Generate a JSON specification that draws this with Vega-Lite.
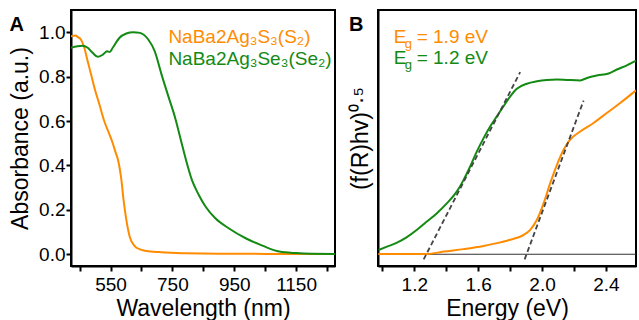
{
  "$schema": "https://vega.github.io/schema/vega-lite/v6.json",
  "padding": {"left": 8, "top": 9, "right": 0, "bottom": 0},
  "background": "white",
  "spacing": 12,
  "config": {
    "font": "Liberation Sans",
    "view": {"stroke": "black", "strokeWidth": 2},
    "axis": {
      "labelFont": "Liberation Sans", "titleFont": "Liberation Sans",
      "labelFontSize": 19, "titleFontSize": 23, "titleFontWeight": "normal",
      "labelColor": "black", "titleColor": "black",
      "domainColor": "black", "domainWidth": 2,
      "tickColor": "black", "tickWidth": 2, "tickSize": 5, "grid": false
    }
  },
  "datasets": {
    "absA": [
      {"sample": "S2", "wavelength": 421.5, "absorbance": 0.982},
      {"sample": "S2", "wavelength": 437, "absorbance": 0.985},
      {"sample": "S2", "wavelength": 443, "absorbance": 0.979},
      {"sample": "S2", "wavelength": 454, "absorbance": 0.967},
      {"sample": "S2", "wavelength": 465, "absorbance": 0.93},
      {"sample": "S2", "wavelength": 476, "absorbance": 0.869},
      {"sample": "S2", "wavelength": 487, "absorbance": 0.809},
      {"sample": "S2", "wavelength": 498, "absorbance": 0.749},
      {"sample": "S2", "wavelength": 514, "absorbance": 0.674},
      {"sample": "S2", "wavelength": 530, "absorbance": 0.598},
      {"sample": "S2", "wavelength": 547, "absorbance": 0.538},
      {"sample": "S2", "wavelength": 557, "absorbance": 0.5},
      {"sample": "S2", "wavelength": 566, "absorbance": 0.46},
      {"sample": "S2", "wavelength": 574, "absorbance": 0.426},
      {"sample": "S2", "wavelength": 585, "absorbance": 0.335},
      {"sample": "S2", "wavelength": 592, "absorbance": 0.245},
      {"sample": "S2", "wavelength": 601, "absorbance": 0.155},
      {"sample": "S2", "wavelength": 612, "absorbance": 0.079},
      {"sample": "S2", "wavelength": 628, "absorbance": 0.037},
      {"sample": "S2", "wavelength": 645, "absorbance": 0.022},
      {"sample": "S2", "wavelength": 661, "absorbance": 0.016},
      {"sample": "S2", "wavelength": 690, "absorbance": 0.011},
      {"sample": "S2", "wavelength": 715, "absorbance": 0.009},
      {"sample": "S2", "wavelength": 791, "absorbance": 0.004},
      {"sample": "S2", "wavelength": 900, "absorbance": 0.002},
      {"sample": "S2", "wavelength": 1000, "absorbance": 0.002},
      {"sample": "S2", "wavelength": 1100, "absorbance": 0.001},
      {"sample": "S2", "wavelength": 1200, "absorbance": 0.001},
      {"sample": "S2", "wavelength": 1276, "absorbance": 0.001},
      {"sample": "Se2", "wavelength": 421.5, "absorbance": 0.93},
      {"sample": "Se2", "wavelength": 443, "absorbance": 0.937},
      {"sample": "Se2", "wavelength": 460, "absorbance": 0.939},
      {"sample": "Se2", "wavelength": 476, "absorbance": 0.93},
      {"sample": "Se2", "wavelength": 492, "absorbance": 0.907},
      {"sample": "Se2", "wavelength": 509, "absorbance": 0.889},
      {"sample": "Se2", "wavelength": 525, "absorbance": 0.899},
      {"sample": "Se2", "wavelength": 539, "absorbance": 0.914},
      {"sample": "Se2", "wavelength": 547, "absorbance": 0.911},
      {"sample": "Se2", "wavelength": 557, "absorbance": 0.93},
      {"sample": "Se2", "wavelength": 579, "absorbance": 0.975},
      {"sample": "Se2", "wavelength": 601, "absorbance": 0.994},
      {"sample": "Se2", "wavelength": 623, "absorbance": 1.0},
      {"sample": "Se2", "wavelength": 645, "absorbance": 0.997},
      {"sample": "Se2", "wavelength": 672, "absorbance": 0.967},
      {"sample": "Se2", "wavelength": 693, "absorbance": 0.914},
      {"sample": "Se2", "wavelength": 715, "absorbance": 0.809},
      {"sample": "Se2", "wavelength": 737, "absorbance": 0.711},
      {"sample": "Se2", "wavelength": 759, "absorbance": 0.614},
      {"sample": "Se2", "wavelength": 780, "absorbance": 0.5},
      {"sample": "Se2", "wavelength": 791, "absorbance": 0.44},
      {"sample": "Se2", "wavelength": 813, "absorbance": 0.335},
      {"sample": "Se2", "wavelength": 835, "absorbance": 0.268},
      {"sample": "Se2", "wavelength": 857, "absorbance": 0.215},
      {"sample": "Se2", "wavelength": 889, "absorbance": 0.162},
      {"sample": "Se2", "wavelength": 932, "absorbance": 0.117},
      {"sample": "Se2", "wavelength": 987, "absorbance": 0.072},
      {"sample": "Se2", "wavelength": 1041, "absorbance": 0.039},
      {"sample": "Se2", "wavelength": 1096, "absorbance": 0.012},
      {"sample": "Se2", "wavelength": 1150, "absorbance": 0.005},
      {"sample": "Se2", "wavelength": 1200, "absorbance": 0.002},
      {"sample": "Se2", "wavelength": 1276, "absorbance": 0.001}
    ],
    "legendA": [
      {"sample": "S2", "wavelength": 737, "absorbance": 0.951, "text": "NaBa2Ag₃S₃(S₂)"},
      {"sample": "Se2", "wavelength": 737, "absorbance": 0.854, "text": "NaBa2Ag₃Se₃(Se₂)"}
    ],
    "tauc": [
      {"sample": "Se2", "E": 0.977, "v": 0.019},
      {"sample": "Se2", "E": 1.029, "v": 0.034},
      {"sample": "Se2", "E": 1.092, "v": 0.052},
      {"sample": "Se2", "E": 1.154, "v": 0.077},
      {"sample": "Se2", "E": 1.217, "v": 0.11},
      {"sample": "Se2", "E": 1.279, "v": 0.147},
      {"sample": "Se2", "E": 1.342, "v": 0.185},
      {"sample": "Se2", "E": 1.405, "v": 0.23},
      {"sample": "Se2", "E": 1.467, "v": 0.283},
      {"sample": "Se2", "E": 1.509, "v": 0.335},
      {"sample": "Se2", "E": 1.55, "v": 0.395},
      {"sample": "Se2", "E": 1.592, "v": 0.463},
      {"sample": "Se2", "E": 1.634, "v": 0.523},
      {"sample": "Se2", "E": 1.676, "v": 0.576},
      {"sample": "Se2", "E": 1.717, "v": 0.621},
      {"sample": "Se2", "E": 1.76, "v": 0.668},
      {"sample": "Se2", "E": 1.801, "v": 0.711},
      {"sample": "Se2", "E": 1.842, "v": 0.745},
      {"sample": "Se2", "E": 1.905, "v": 0.768},
      {"sample": "Se2", "E": 1.968, "v": 0.779},
      {"sample": "Se2", "E": 2.03, "v": 0.785},
      {"sample": "Se2", "E": 2.093, "v": 0.787},
      {"sample": "Se2", "E": 2.156, "v": 0.785},
      {"sample": "Se2", "E": 2.239, "v": 0.783},
      {"sample": "Se2", "E": 2.281, "v": 0.794},
      {"sample": "Se2", "E": 2.343, "v": 0.805},
      {"sample": "Se2", "E": 2.417, "v": 0.814},
      {"sample": "Se2", "E": 2.468, "v": 0.832},
      {"sample": "Se2", "E": 2.531, "v": 0.851},
      {"sample": "Se2", "E": 2.588, "v": 0.872},
      {"sample": "S2", "E": 0.975, "v": 0.001},
      {"sample": "S2", "E": 1.279, "v": 0.001},
      {"sample": "S2", "E": 1.384, "v": 0.012},
      {"sample": "S2", "E": 1.509, "v": 0.023},
      {"sample": "S2", "E": 1.634, "v": 0.037},
      {"sample": "S2", "E": 1.718, "v": 0.05},
      {"sample": "S2", "E": 1.78, "v": 0.061},
      {"sample": "S2", "E": 1.801, "v": 0.065},
      {"sample": "S2", "E": 1.885, "v": 0.087},
      {"sample": "S2", "E": 1.926, "v": 0.11},
      {"sample": "S2", "E": 1.968, "v": 0.155},
      {"sample": "S2", "E": 2.01, "v": 0.23},
      {"sample": "S2", "E": 2.051, "v": 0.32},
      {"sample": "S2", "E": 2.093, "v": 0.403},
      {"sample": "S2", "E": 2.135, "v": 0.471},
      {"sample": "S2", "E": 2.176, "v": 0.516},
      {"sample": "S2", "E": 2.239, "v": 0.553},
      {"sample": "S2", "E": 2.322, "v": 0.591},
      {"sample": "S2", "E": 2.405, "v": 0.636},
      {"sample": "S2", "E": 2.489, "v": 0.681},
      {"sample": "S2", "E": 2.588, "v": 0.738}
    ],
    "fits": [
      {"fit": "Se2", "E": 1.259, "v": -0.023},
      {"fit": "Se2", "E": 1.863, "v": 0.82},
      {"fit": "S2", "E": 1.891, "v": -0.023},
      {"fit": "S2", "E": 2.26, "v": 0.692}
    ],
    "labelsB": [
      {"sample": "S2", "E": 1.071, "v": 0.951, "sym": "E", "sub": "g", "rest": "= 1.9 eV"},
      {"sample": "Se2", "E": 1.071, "v": 0.859, "sym": "E", "sub": "g", "rest": "= 1.2 eV"}
    ]
  },
  "hconcat": [
    {
      "width": 264,
      "height": 256,
      "title": {"text": "A", "anchor": "start", "frame": "bounds", "fontSize": 20, "fontWeight": "bold", "color": "black", "baseline": "top", "offset": -25},
      "resolve": {"axis": {"x": "independent"}},
      "layer": [
        {
          "data": {"name": "absA"},
          "mark": {"type": "line", "strokeWidth": 2, "interpolate": "monotone", "clip": true},
          "encoding": {
            "x": {"field": "wavelength", "type": "quantitative",
              "scale": {"domain": [422, 1276], "nice": false, "zero": false},
              "axis": {"orient": "bottom", "title": "Wavelength (nm)", "values": [550, 750, 950, 1150], "format": "d", "labelPadding": 4, "titlePadding": 3}},
            "y": {"field": "absorbance", "type": "quantitative",
              "scale": {"domain": [-0.053, 1.1], "nice": false, "zero": false},
              "axis": {"title": "Absorbance (a.u.)", "values": [0, 0.2, 0.4, 0.6, 0.8, 1.0], "format": ".1f", "labelPadding": 1, "titlePadding": 6}},
            "color": {"field": "sample", "type": "nominal", "scale": {"domain": ["S2", "Se2"], "range": ["#ff8c00", "#138a13"]}, "legend": null}
          }
        },
        {
          "data": {"name": "legendA"},
          "mark": {"type": "text", "align": "left", "baseline": "alphabetic", "fontSize": 19},
          "encoding": {
            "x": {"field": "wavelength", "type": "quantitative",
              "axis": {"orient": "bottom", "title": null, "values": [450, 650, 850, 1050, 1250], "labels": false, "domain": false}},
            "y": {"field": "absorbance", "type": "quantitative"},
            "text": {"field": "text"},
            "color": {"field": "sample", "type": "nominal", "legend": null}
          }
        }
      ]
    },
    {
      "width": 258,
      "height": 256,
      "title": {"text": "B", "anchor": "start", "frame": "bounds", "fontSize": 20, "fontWeight": "bold", "color": "black", "baseline": "top", "offset": -25},
      "resolve": {"axis": {"x": "independent"}},
      "layer": [
        {
          "data": {"values": [{}]},
          "mark": {"type": "rule", "color": "#333333", "strokeWidth": 1.2},
          "encoding": {"y": {"datum": 0, "type": "quantitative"}}
        },
        {
          "data": {"name": "tauc"},
          "mark": {"type": "line", "strokeWidth": 2, "interpolate": "monotone", "clip": true},
          "encoding": {
            "x": {"field": "E", "type": "quantitative",
              "scale": {"domain": [0.973, 2.588], "nice": false, "zero": false},
              "axis": {"orient": "bottom", "title": "Energy (eV)", "values": [1.2, 1.6, 2.0, 2.4], "format": ".1f", "labelPadding": 4, "titlePadding": 3}},
            "y": {"field": "v", "type": "quantitative",
              "scale": {"domain": [-0.053, 1.1], "nice": false, "zero": false},
              "axis": {"title": "(f(R)hv)⁰·⁵", "labels": false, "ticks": false, "titlePadding": 6}},
            "color": {"field": "sample", "type": "nominal", "legend": null}
          }
        },
        {
          "data": {"name": "fits"},
          "mark": {"type": "line", "strokeWidth": 1.8, "strokeDash": [5, 3], "color": "#444444", "clip": true},
          "encoding": {
            "x": {"field": "E", "type": "quantitative",
              "axis": {"orient": "bottom", "title": null, "values": [1.0, 1.4, 1.8, 2.2], "labels": false, "domain": false}},
            "y": {"field": "v", "type": "quantitative"},
            "detail": {"field": "fit", "type": "nominal"}
          }
        },
        {
          "data": {"name": "labelsB"},
          "mark": {"type": "text", "align": "left", "baseline": "alphabetic", "fontSize": 19},
          "encoding": {
            "x": {"field": "E", "type": "quantitative", "axis": null},
            "y": {"field": "v", "type": "quantitative"},
            "text": {"field": "sym"},
            "color": {"field": "sample", "type": "nominal", "legend": null}
          }
        },
        {
          "data": {"name": "labelsB"},
          "mark": {"type": "text", "align": "left", "baseline": "alphabetic", "fontSize": 13, "dx": 11, "dy": 5},
          "encoding": {
            "x": {"field": "E", "type": "quantitative", "axis": null},
            "y": {"field": "v", "type": "quantitative"},
            "text": {"field": "sub"},
            "color": {"field": "sample", "type": "nominal", "legend": null}
          }
        },
        {
          "data": {"name": "labelsB"},
          "mark": {"type": "text", "align": "left", "baseline": "alphabetic", "fontSize": 19, "dx": 23},
          "encoding": {
            "x": {"field": "E", "type": "quantitative", "axis": null},
            "y": {"field": "v", "type": "quantitative"},
            "text": {"field": "rest"},
            "color": {"field": "sample", "type": "nominal", "legend": null}
          }
        }
      ]
    }
  ]
}
